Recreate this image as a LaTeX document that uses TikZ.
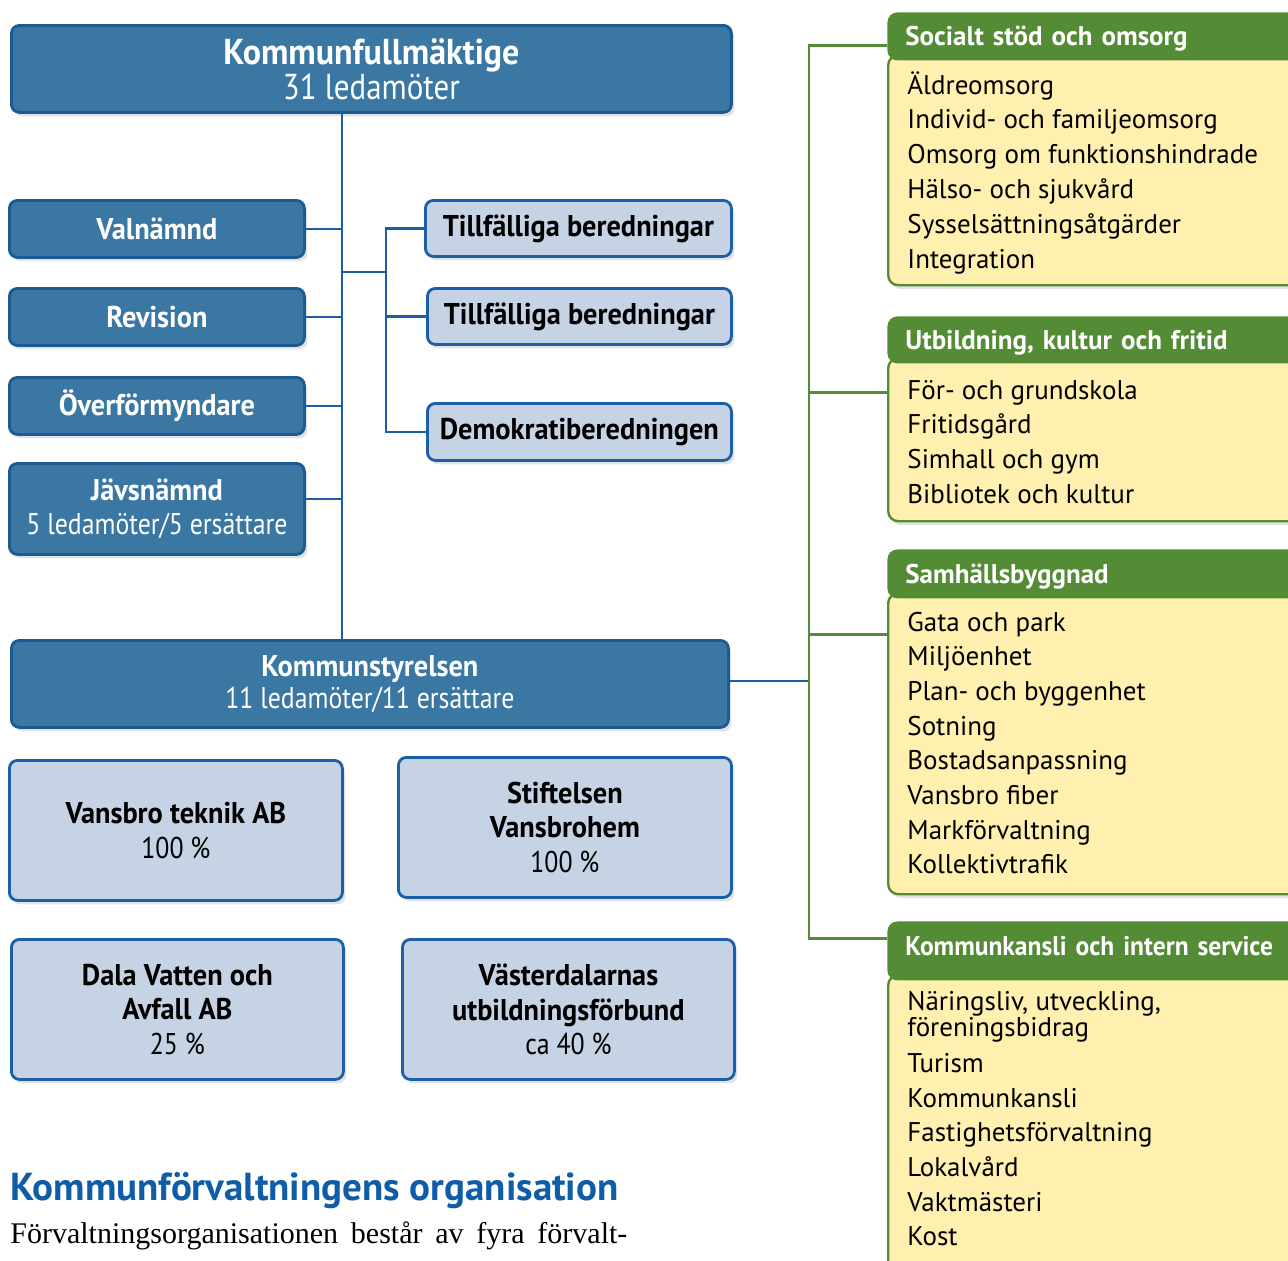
\documentclass[tikz,border=0pt]{standalone}
\usepackage{fontspec}
\setmainfont{PT Sans}
\newfontfamily\condsans[FakeStretch=0.86, BoldFeatures={FakeStretch=0.945}]{PT Sans}
\newfontfamily\brodfont{Liberation Serif}
\usetikzlibrary{positioning,shadows,calc}

\definecolor{kfblue}{HTML}{3A77A2}
\definecolor{kfedge}{HTML}{1C5A93}
\definecolor{ljusblue}{HTML}{C6D3E4}
\definecolor{linjeblue}{HTML}{1B5FA6}
\definecolor{forvgreen}{HTML}{548B35}
\definecolor{forvyellow}{HTML}{FFF0AF}
\definecolor{rubrikblue}{HTML}{0F5DA8}

\tikzset{
  skugga/.style={drop shadow={shadow xshift=1.5pt, shadow yshift=-2pt, opacity=0.22}},
  orgbox/.style={draw=kfedge, fill=kfblue, line width=1.4pt, rounded corners=4pt, text=white,
    align=center, anchor=north west, inner sep=0pt, skugga, font=\condsans\fontsize{15}{17}\selectfont},
  delbox/.style={draw=linjeblue, fill=ljusblue, line width=1.4pt, rounded corners=4pt, text=black,
    align=center, anchor=north west, inner sep=0pt, skugga, font=\condsans\fontsize{15}{17.3}\selectfont},
  bline/.style={draw=linjeblue, line width=1.2pt},
  gline/.style={draw=forvgreen, line width=1.2pt},
  panelhead/.style={fill=forvgreen, text=white, rounded corners=5pt, anchor=north west, inner xsep=9pt,
    inner ysep=0pt, align=left, text height=9.5pt, text depth=0pt, font=\bfseries\fontsize{13.5}{16}\selectfont},
  panelbody/.style={draw=forvgreen, fill=forvyellow, line width=1.2pt, rounded corners=5pt,
    anchor=north west, skugga},
  uppg/.style={anchor=base west, inner sep=0pt, font=\fontsize{13.5}{13}\selectfont},
}

\begin{document}
\begin{tikzpicture}[x=0.5pt, y=-0.5pt]

	% page frame
	\useasboundingbox (0,0) rectangle (1288,1260);
	\clip (0,0) rectangle (1288,1260);

	% Fullmaktige and its boxes
	\node[orgbox, minimum width=360pt, minimum height=43.5pt, font=\condsans\fontsize{18}{16.5}\selectfont] (kf) at (10,24) {\textbf{Kommunfullmäktige}\\31 ledamöter};

	\node[orgbox, minimum width=147.5pt, minimum height=28.5pt] (valn) at (8,199) {\textbf{Valnämnd}};
	\node[orgbox, minimum width=147.5pt, minimum height=28.5pt] (rev) at (8,287) {\textbf{Revision}};
	\node[orgbox, minimum width=147.5pt, minimum height=28.5pt] (overf) at (8,376) {\textbf{Överförmyndare}};
	\node[orgbox, minimum width=147.5pt, minimum height=45.5pt] (javs) at (8,462) {\textbf{Jävsnämnd}\\5 ledamöter/5 ersättare};

	\node[delbox, minimum width=153pt, minimum height=28pt] (tb1) at (424,199) {\textbf{Tillfälliga beredningar}};
	\node[delbox, minimum width=152pt, minimum height=28pt] (tb2) at (426,287) {\textbf{Tillfälliga beredningar}};
	\node[delbox, minimum width=152pt, minimum height=28.5pt] (demo) at (426,402) {\textbf{Demokratiberedningen}};

	% Kommunstyrelsen
	\node[orgbox, minimum width=358.5pt, minimum height=43.5pt, font=\condsans\fontsize{15}{16}\selectfont] (ks) at (10,639) {\textbf{Kommunstyrelsen}\\11 ledamöter/11 ersättare};

	% Bolag och forbund
	\node[delbox, minimum width=166.5pt, minimum height=70pt] (vtab) at (8,759) {\textbf{Vansbro teknik AB}\\100~\%};
	\node[delbox, minimum width=166.5pt, minimum height=70pt] (stift) at (397,756) {\textbf{Stiftelsen}\\\textbf{Vansbrohem}\\100~\%};
	\node[delbox, minimum width=166pt, minimum height=70pt] (dalav) at (10,938) {\textbf{Dala Vatten och}\\\textbf{Avfall AB}\\25~\%};
	\node[delbox, minimum width=166pt, minimum height=70pt] (vdal) at (401,938) {\textbf{Västerdalarnas}\\\textbf{utbildningsförbund}\\ca 40~\%};

	% Forvaltningar
	\node[panelbody, minimum width=211.5pt, minimum height=115pt] (socb) at (887,54) {};
	\node[panelhead, text width=193.5pt, minimum height=24pt] (soc) at (887,12) {Socialt stöd och omsorg};
	\foreach \t [count=\i] in {Äldreomsorg, Individ- och familjeomsorg, Omsorg om funktionshindrade, Hälso- och sjukvård, Sysselsättningsåtgärder, Integration}
	\node[uppg] (soc-\i) at (907,{94+(\i-1)*34.8}) {\t};

	\node[panelbody, minimum width=211.5pt, minimum height=81.5pt] (utbb) at (887,357) {};
	\node[panelhead, text width=193.5pt, minimum height=23.5pt] (utb) at (887,316) {Utbildning, kultur och fritid};
	\foreach \t [count=\i] in {För- och grundskola, Fritidsgård, Simhall och gym, Bibliotek och kultur}
	\node[uppg] (utb-\i) at (907,{399+(\i-1)*34.7}) {\t};

	\node[panelbody, minimum width=211.5pt, minimum height=150.5pt] (samb) at (887,592) {};
	\node[panelhead, text width=193.5pt, minimum height=24.5pt] (sam) at (887,549) {Samhällsbyggnad};
	\foreach \t [count=\i] in {Gata och park, Miljöenhet, Plan- och byggenhet, Sotning, Bostadsanpassning, Vansbro fiber, Markförvaltning, Kollektivtrafik}
	\node[uppg] (sam-\i) at (907,{631+(\i-1)*34.7}) {\t};

	\node[panelbody, minimum width=211.5pt, minimum height=173pt] (kisb) at (887,974) {};
	\node[panelhead, text width=193.5pt, minimum height=29.5pt, text depth=5pt, font=\condsans\bfseries\fontsize{13.5}{16}\selectfont] (kis) at (887,921) {Kommunkansli och intern service};
	\foreach \t/\y [count=\i] in {{Näringsliv, utveckling,}/1010, föreningsbidrag/1036, Turism/1072, Kommunkansli/1107, Fastighetsförvaltning/1141, Lokalvård/1176, Vaktmästeri/1211, Kost/1245}
	\node[uppg] (kis-\i) at (907,\y) {\t};

	% Draw connectors
	\coordinate (bx) at (342,0);
	\coordinate (bx2) at (386,0);
	\coordinate (gx) at (809,0);
	\coordinate (fork) at (342,272);

	\draw[bline] (kf.south -| bx) -- (ks.north -| bx);
	\draw[bline] (valn.east) -- (valn.east -| bx);
	\draw[bline] (rev.east) -- (rev.east -| bx);
	\draw[bline] (overf.east) -- (overf.east -| bx);
	\draw[bline] ([yshift=5pt]javs.east) -- ([yshift=5pt]javs.east -| bx);

	\draw[bline] (fork) -- (fork -| bx2);
	\draw[bline] (tb1.west) -| (bx2 |- demo.west) -- (demo.west);
	\draw[bline] (tb2.west) -- (tb2.west -| bx2);

	\draw[bline] ([yshift=1.5pt]ks.east) -- ([yshift=1.5pt]ks.east -| gx);
	\draw[gline] ([yshift=-4.5pt]soc.west) -| ([yshift=6.25pt]kis.west -| gx) -- ([yshift=6.25pt]kis.west);
	\draw[gline] ([yshift=-26.25pt]utb.west -| gx) -- ([yshift=-26.25pt]utb.west);
	\draw[gline] ([yshift=-30.25pt]sam.west -| gx) -- ([yshift=-30.25pt]sam.west);

	% Rubrik och brodtext
	\node[anchor=west, inner sep=0pt, text=rubrikblue, font=\bfseries\fontsize{19.5}{21}\selectfont] (rubrik) at (10,1191) {Kommunförvaltningens organisation};
	\node[anchor=west, inner sep=0pt, font=\brodfont\fontsize{15}{16}\selectfont] (brod) at (10,1236) {\makebox[308.5pt][s]{Förvaltningsorganisationen består av fyra förvalt-}};

\end{tikzpicture}
\end{document}
